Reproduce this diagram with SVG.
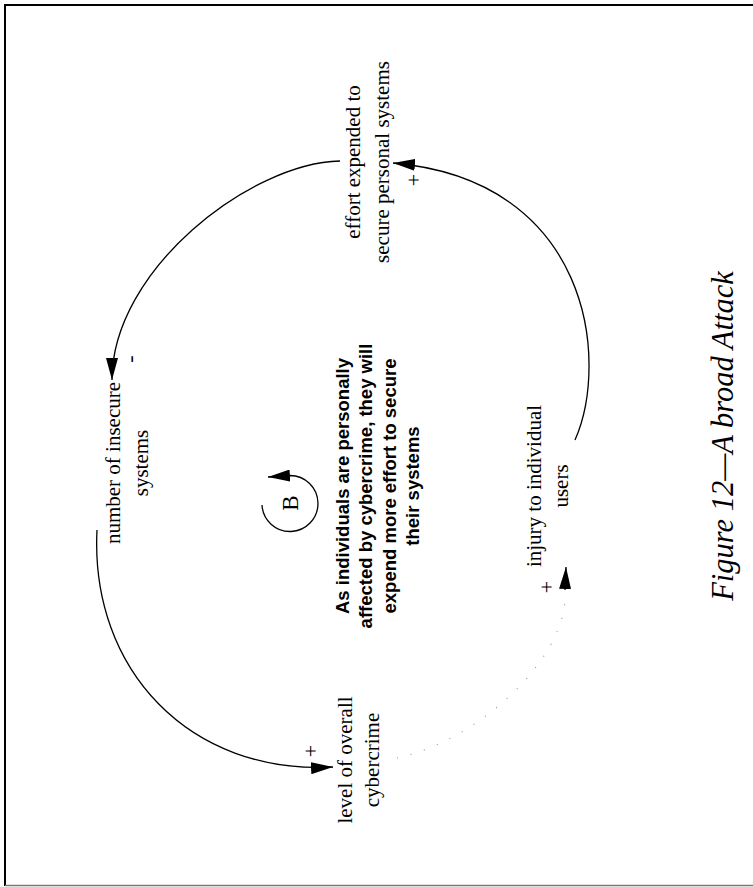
<svg xmlns="http://www.w3.org/2000/svg" width="753" height="887" viewBox="0 0 753 887">
<style>
.lbl{font-family:"Liberation Serif","Times New Roman",serif;font-size:21px;fill:#000;text-anchor:middle}
.sign{font-family:"Liberation Serif","Times New Roman",serif;font-size:22px;fill:#000;text-anchor:middle}
.note{font-family:"Liberation Sans",Arial,sans-serif;font-size:18.5px;font-weight:bold;fill:#000;text-anchor:middle}
.cap{font-family:"Liberation Serif","Times New Roman",serif;font-size:30.5px;font-style:italic;fill:#000;text-anchor:middle}
.link{fill:none;stroke:#000;stroke-width:1.3}
.dot{fill:none;stroke:#999;stroke-width:1.2;stroke-dasharray:1 13}
</style>
<defs>
<marker id="ah" markerUnits="userSpaceOnUse" viewBox="0 0 22 12" refX="22" refY="6" markerWidth="22" markerHeight="12" orient="auto">
<path d="M0,0 L22,6 L0,12 z" fill="#000"/>
</marker>
</defs>
<rect width="753" height="887" fill="#fff"/>
<g id="frame" stroke="#000" fill="none">
<line x1="4" y1="5" x2="753" y2="5" stroke-width="2"/>
<line x1="5" y1="4" x2="5" y2="886" stroke-width="2"/>
<line x1="5" y1="885.5" x2="753" y2="885.5" stroke="#777" stroke-width="1.5"/>
</g>
<g id="connectors">
<path class="link" d="M340,161 C250,163 112,270 112,380" marker-end="url(#ah)"/>
<path class="link" d="M97,530 C90,670 190,775 333,767" marker-end="url(#ah)"/>
<path class="dot" d="M397,758 C480,740 562,660 565,600"/>
<path class="link" d="M565,590 L566,567" stroke="none" marker-end="url(#ah)"/>
<path class="link" d="M575,440 C610,360 590,180 393,163" marker-end="url(#ah)"/>
</g>
<g id="signs">
<text class="sign" transform="translate(420.5,180) rotate(-90)">+</text>
<text class="sign" transform="translate(137,359) rotate(-90)">-</text>
<text class="sign" transform="translate(317.5,751) rotate(-90)">+</text>
<text class="sign" transform="translate(553.5,587) rotate(-90)">+</text>
</g>
<g id="effort">
<text class="lbl" transform="translate(360,162) rotate(-90)"><tspan x="0" y="0">effort expended to</tspan><tspan x="0" y="29">secure personal systems</tspan></text>
</g>
<g id="insecure">
<text class="lbl" transform="translate(120,463) rotate(-90)"><tspan x="0" y="0">number of insecure</tspan><tspan x="0" y="28">systems</tspan></text>
</g>
<g id="cybercrime">
<text class="lbl" transform="translate(352,760) rotate(-90)"><tspan x="0" y="0">level of overall</tspan><tspan x="0" y="27">cybercrime</tspan></text>
</g>
<g id="injury">
<text class="lbl" transform="translate(541,486) rotate(-90)"><tspan x="0" y="0">injury to individual</tspan><tspan x="0" y="27">users</tspan></text>
</g>
<g id="loop">
<path class="link" d="M262,505 A28,28 0 1 0 290,475.5 L268,477" marker-end="url(#ah)"/>
<text class="lbl" transform="translate(298,503) rotate(-90)" style="font-size:23px">B</text>
</g>
<g id="note">
<text class="note" transform="translate(349,486) rotate(-90)"><tspan x="0" y="0">As individuals are personally</tspan><tspan x="0" y="23.3">affected by cybercrime, they will</tspan><tspan x="0" y="46.6">expend more effort to secure</tspan><tspan x="0" y="70">their systems</tspan></text>
</g>
<g id="caption">
<text class="cap" transform="translate(733,436) rotate(-90)">Figure 12—A broad Attack</text>
</g>
</svg>
